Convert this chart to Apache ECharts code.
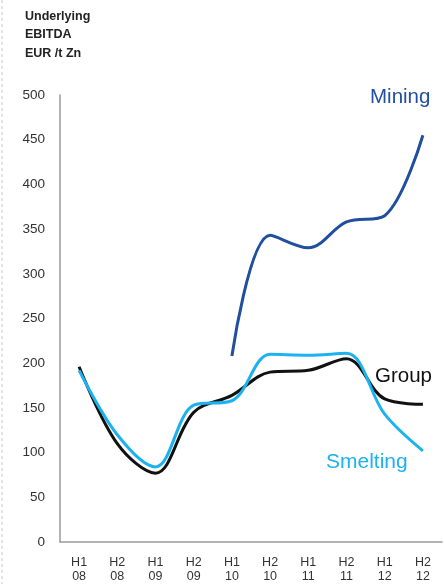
<!DOCTYPE html>
<html>
<head>
<meta charset="utf-8">
<script src="https://cdn.jsdelivr.net/npm/echarts@6/dist/echarts.min.js"></script>
<style>
  html, body { margin: 0; padding: 0; background: #fff; }
  #chart { width: 444px; height: 584px; }
</style>
</head>
<body>
<div id="chart"></div>
<script>
// 期間
const periods = ['H1\n08', 'H2\n08', 'H1\n09', 'H2\n09', 'H1\n10', 'H2\n10', 'H1\n11', 'H2\n11', 'H1\n12', 'H2\n12'];

// EUR/t Zn
const mining = [null, null, null, null, 208, 343, 329, 358, 365, 455];
const group = [196, 110, 77, 145, 164, 190, 192, 205, 160, 154];
const smelting = [192, 120, 84, 153, 158, 210, 209, 211, 143, 102];

const chart = echarts.init(document.getElementById('chart'));

const lineSeries = (name, data, color) => ({
    name,
    type: 'line',
    data,
    smooth: 0.35,
    showSymbol: false,
    connectNulls: false,
    lineStyle: { color, width: 3 },
    itemStyle: { color },
    z: name === 'Mining' ? 3 : 2
});

chart.setOption({
    animation: false,
    grid: { left: 60, right: 2, top: 95, bottom: 41 },
    xAxis: {
        type: 'category',
        data: periods,
        boundaryGap: true,
        axisLine: { lineStyle: { color: '#9a9a9a', width: 1.5 } },
        axisTick: { show: false },
        axisLabel: {
            color: '#333',
            fontFamily: 'Liberation Sans, Arial, sans-serif',
            fontSize: 12.5,
            lineHeight: 14,
            margin: 14,
            interval: 0
        }
    },
    yAxis: {
        type: 'value',
        min: 0,
        max: 500,
        interval: 50,
        splitLine: { show: false },
        axisLine: { show: true, lineStyle: { color: '#9a9a9a', width: 1.5 } },
        axisTick: { show: false },
        axisLabel: {
            color: '#333',
            fontFamily: 'Liberation Sans, Arial, sans-serif',
            fontSize: 13.5,
            margin: 15
        }
    },
    graphic: [
        // 左側虛線
        {
            type: 'line',
            shape: { x1: 2, y1: 0, x2: 2, y2: 584 },
            style: { stroke: '#c8c8c8', lineWidth: 1, lineDash: [3, 3] }
        },
        {
            type: 'text',
            left: 25,
            top: 7,
            style: {
                text: 'Underlying\nEBITDA\nEUR /t Zn',
                fill: '#222',
                font: 'bold 12.5px "Liberation Sans", Arial, sans-serif',
                lineHeight: 18.5
            }
        },
        {
            type: 'text',
            left: 370,
            top: 87,
            style: { text: 'Mining', fill: '#21509c', font: '20.5px "Liberation Sans", Arial, sans-serif' }
        },
        {
            type: 'text',
            left: 375,
            top: 366,
            style: { text: 'Group', fill: '#111', font: '20.5px "Liberation Sans", Arial, sans-serif' }
        },
        {
            type: 'text',
            left: 326,
            top: 452,
            style: { text: 'Smelting', fill: '#1cb2ef', font: '21px "Liberation Sans", Arial, sans-serif' }
        }
    ],
    series: [
        lineSeries('Group', group, '#111111'),
        lineSeries('Smelting', smelting, '#1cb2ef'),
        lineSeries('Mining', mining, '#1f4f9d')
    ]
});
</script>
</body>
</html>
